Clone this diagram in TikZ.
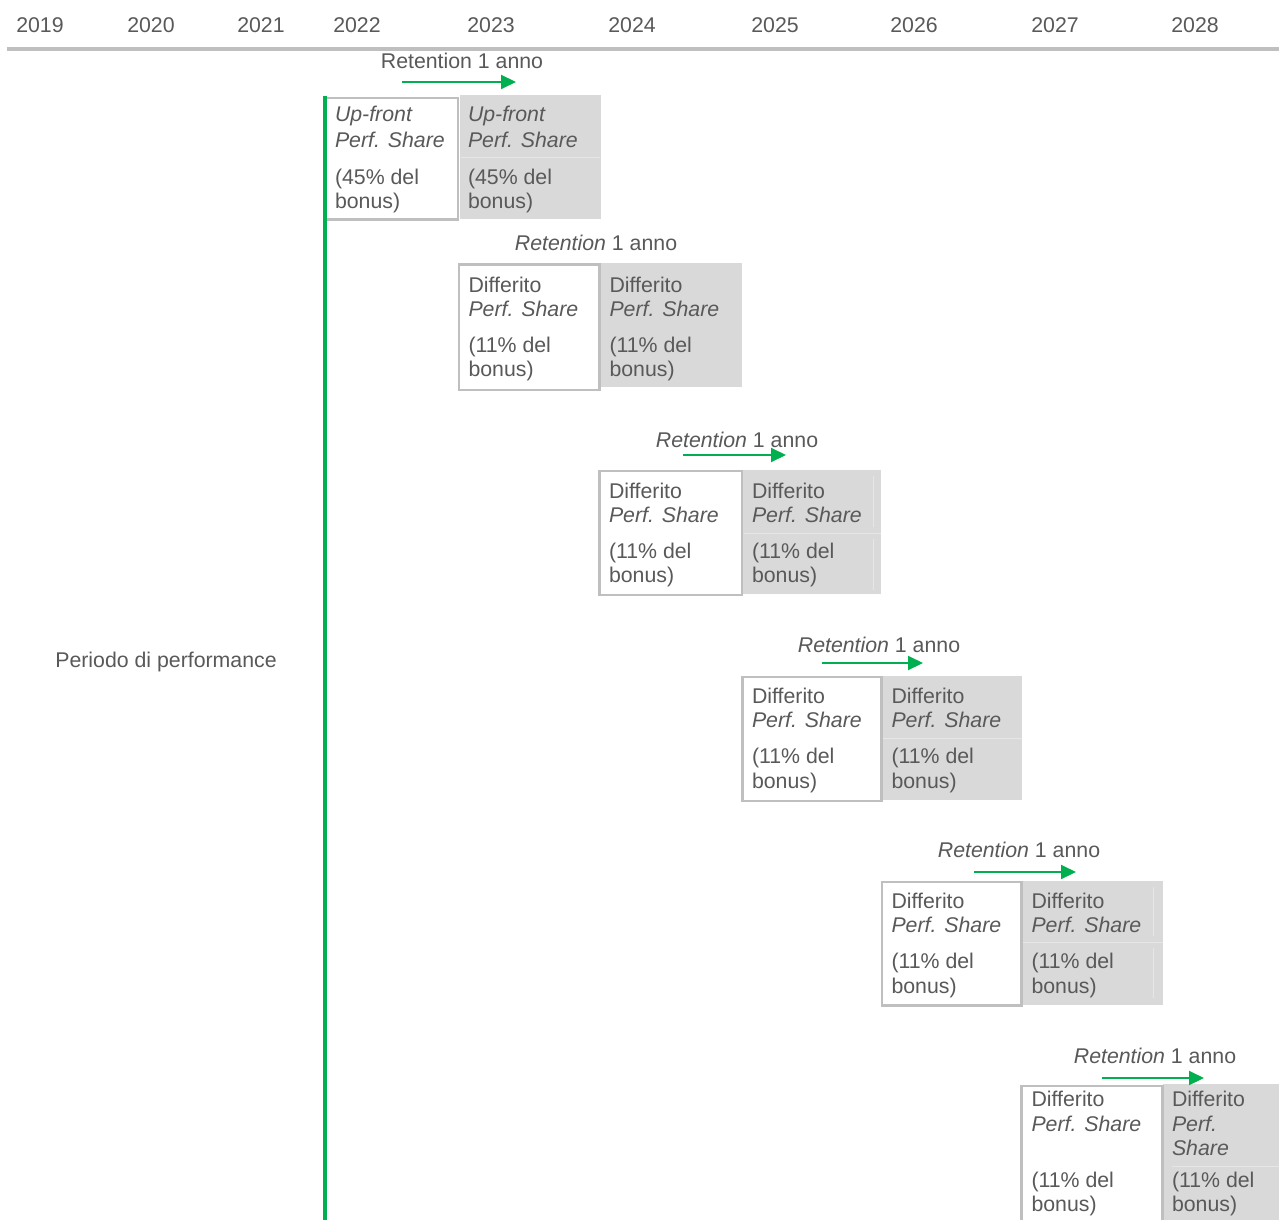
\documentclass[tikz,border=0pt]{standalone}
\usepackage{fontspec}
\setmainfont{Liberation Sans}
\usetikzlibrary{arrows.meta}
\definecolor{txt}{RGB}{89,89,89}
\definecolor{boxgray}{RGB}{217,217,217}
\definecolor{bordergray}{RGB}{191,191,191}
\definecolor{divgray}{RGB}{230,230,230}
\definecolor{grn}{RGB}{0,176,80}
\begin{document}
\begin{tikzpicture}[x=1pt,y=-1pt,
  lbl/.style={inner sep=0pt, outer sep=0pt, anchor=base west, text=txt, font=\fontsize{21.3}{24}\selectfont},
  clbl/.style={lbl, anchor=base},
  wbox/.style={draw=bordergray, line width=2.5pt, fill=white, inner sep=0pt, outer sep=0pt},
  gbox/.style={fill=boxgray, inner sep=0pt, outer sep=0pt},
  divline/.style={draw=divgray, line width=0.9pt},
  garrow/.style={draw=grn, line width=2pt, -{Triangle[length=15pt,width=14pt]}},
]
\useasboundingbox (0,0) rectangle (1279,1220);
\fill[white] (0,0) rectangle (1279,1220);

% header
\foreach \yr/\xx in {2019/40,2020/151,2021/261,2022/357,2023/491,2024/632,2025/775,2026/914,2027/1055,2028/1195}
  \node[clbl] (y\yr) at (\xx,33) {\yr};
\coordinate (hl) at (7,49);
\coordinate (hr) at (1279,49);
\draw[bordergray, line width=4pt] (hl) -- (hr);

\node[clbl] (perf) at (166,667) {Periodo di performance};

% pair macro: id, Xl, Xm, Xr, T, white height
\newcommand{\mkboxes}[6]{%
  \node[gbox, minimum width={#4-#3}, minimum height=124] (g#1) at ({(#3+#4)/2},{#5+60.5}) {};
  \node[wbox, minimum width={#3-#2}, minimum height={#6}] (w#1) at ({(#2+#3)/2},{#5+#6/2}) {};
}

% pair 1
\node[gbox, minimum width=141, minimum height=124] (g1) at (530,157) {};
\node[wbox, minimum width=133, minimum height=121.5] (w1) at (391.5,158.75) {};
\draw[divline] (461,157) -- (600,157);
\node[lbl] (w1a) at (335,122) {\itshape Up-front};
\node[lbl] (w1b) at (335,147) {\itshape Perf. Share};
\node[lbl] (w1c) at (335,184) {(45\% del};
\node[lbl] (w1d) at (335,208.5) {bonus)};
\node[lbl] (g1a) at (468,122) {\itshape Up-front};
\node[lbl] (g1b) at (468,147) {\itshape Perf. Share};
\node[lbl] (g1c) at (468,184) {(45\% del};
\node[lbl] (g1d) at (468,208.5) {bonus)};
\node[clbl] (r1) at (462,69) {Retention 1 anno};
\coordinate (a1s) at (402,82);
\coordinate (a1e) at (516,82);
\draw[garrow] (a1s) -- (a1e);

% pair 2
\mkboxes{2}{459}{599.5}{742}{264.5}{125.5}
\node[lbl] (w2a) at (468.5,292) {Differito};
\node[lbl] (w2b) at (468.5,316) {\itshape Perf. Share};
\node[lbl] (w2c) at (468.5,352) {(11\% del};
\node[lbl] (w2d) at (468.5,376.5) {bonus)};
\node[lbl] (g2a) at (609.5,292) {Differito};
\node[lbl] (g2b) at (609.5,316) {\itshape Perf. Share};
\node[lbl] (g2c) at (609.5,352) {(11\% del};
\node[lbl] (g2d) at (609.5,376.5) {bonus)};
\node[clbl] (r2) at (596,250) {\itshape Retention\upshape\ 1 anno};

% pair 3
\mkboxes{3}{599.5}{742}{881}{471}{124}
\draw[divline] (744,533) -- (881,533);
\draw[divline] (873,476) -- (873,527);
\draw[divline] (873,539) -- (873,590);
\node[lbl] (w3a) at (609,498) {Differito};
\node[lbl] (w3b) at (609,522) {\itshape Perf. Share};
\node[lbl] (w3c) at (609,558) {(11\% del};
\node[lbl] (w3d) at (609,582.5) {bonus)};
\node[lbl] (g3a) at (752,498) {Differito};
\node[lbl] (g3b) at (752,522) {\itshape Perf. Share};
\node[lbl] (g3c) at (752,558) {(11\% del};
\node[lbl] (g3d) at (752,582.5) {bonus)};
\node[clbl] (r3) at (737,447) {\itshape Retention\upshape\ 1 anno};
\coordinate (a3s) at (683,455);
\coordinate (a3e) at (786,455);
\draw[garrow] (a3s) -- (a3e);

% pair 4
\mkboxes{4}{742.5}{881.5}{1022}{677}{124}
\draw[divline] (883,738) -- (1022,738);
\node[lbl] (w4a) at (752,703) {Differito};
\node[lbl] (w4b) at (752,727.5) {\itshape Perf. Share};
\node[lbl] (w4c) at (752,763.5) {(11\% del};
\node[lbl] (w4d) at (752,788) {bonus)};
\node[lbl] (g4a) at (891.5,703) {Differito};
\node[lbl] (g4b) at (891.5,727.5) {\itshape Perf. Share};
\node[lbl] (g4c) at (891.5,763.5) {(11\% del};
\node[lbl] (g4d) at (891.5,788) {bonus)};
\node[clbl] (r4) at (879,652) {\itshape Retention\upshape\ 1 anno};
\coordinate (a4s) at (822,663);
\coordinate (a4e) at (923,663);
\draw[garrow] (a4s) -- (a4e);

% pair 5
\mkboxes{5}{882}{1021.5}{1163}{882}{123.5}
\draw[divline] (1023,942) -- (1163,942);
\draw[divline] (1153,887) -- (1153,936);
\draw[divline] (1153,948) -- (1153,998);
\node[lbl] (w5a) at (891.5,908) {Differito};
\node[lbl] (w5b) at (891.5,932.5) {\itshape Perf. Share};
\node[lbl] (w5c) at (891.5,968.5) {(11\% del};
\node[lbl] (w5d) at (891.5,993) {bonus)};
\node[lbl] (g5a) at (1031.5,908) {Differito};
\node[lbl] (g5b) at (1031.5,932.5) {\itshape Perf. Share};
\node[lbl] (g5c) at (1031.5,968.5) {(11\% del};
\node[lbl] (g5d) at (1031.5,993) {bonus)};
\node[clbl] (r5) at (1019,857) {\itshape Retention\upshape\ 1 anno};
\coordinate (a5s) at (974,872);
\coordinate (a5e) at (1076,872);
\draw[garrow] (a5s) -- (a5e);

% pair 6
\node[gbox, minimum width=117, minimum height=140] (g6) at (1221.5,1154) {};
\node[wbox, minimum width=141, minimum height=140] (w6) at (1092,1156) {};
\draw[divline] (1172,1166) -- (1279,1166);
\node[lbl] (w6a) at (1031.5,1106) {Differito};
\node[lbl] (w6b) at (1031.5,1131.5) {\itshape Perf. Share};
\node[lbl] (w6c) at (1031.5,1187) {(11\% del};
\node[lbl] (w6d) at (1031.5,1211.5) {bonus)};
\node[lbl] (g6a) at (1172,1106) {Differito};
\node[lbl] (g6b) at (1172,1131.5) {\itshape Perf.};
\node[lbl] (g6e) at (1172,1155.5) {\itshape Share};
\node[lbl] (g6c) at (1172,1187) {(11\% del};
\node[lbl] (g6d) at (1172,1211.5) {bonus)};
\node[clbl] (r6) at (1155,1063) {\itshape Retention\upshape\ 1 anno};
\coordinate (a6s) at (1102,1078);
\coordinate (a6e) at (1204,1078);
\draw[garrow] (a6s) -- (a6e);

% green vertical line
\coordinate (gtop) at (325,96);
\coordinate (gbot) at (325,1220);
\draw[grn, line width=4pt] (gtop) -- (gbot);
\end{tikzpicture}
\end{document}
